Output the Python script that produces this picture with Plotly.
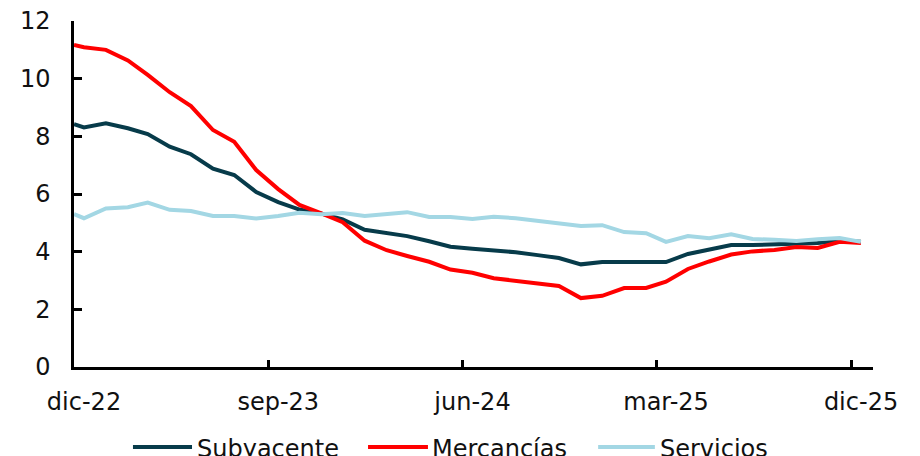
import plotly.graph_objects as go

# ---- data ----
dates = [
    "2022-12-01", "2022-12-15",
    "2023-01-15", "2023-02-15", "2023-03-15", "2023-04-15", "2023-05-15", "2023-06-15",
    "2023-07-15", "2023-08-15", "2023-09-15", "2023-10-15", "2023-11-15", "2023-12-15",
    "2024-01-15", "2024-02-15", "2024-03-15", "2024-04-15", "2024-05-15", "2024-06-15",
    "2024-07-15", "2024-08-15", "2024-09-15", "2024-10-15", "2024-11-15", "2024-12-15",
    "2025-01-15", "2025-02-15", "2025-03-15", "2025-04-15", "2025-05-15", "2025-06-15",
    "2025-07-15", "2025-08-15", "2025-09-15", "2025-10-15", "2025-11-15", "2025-12-15",
]

subyacente = [
    8.42, 8.31, 8.45, 8.28, 8.08, 7.64, 7.38, 6.88, 6.66, 6.07, 5.72, 5.46, 5.32,
    5.12, 4.76, 4.65, 4.54, 4.36, 4.17, 4.10, 4.04, 3.98, 3.88, 3.78, 3.56, 3.64,
    3.64, 3.64, 3.64, 3.92, 4.06, 4.23, 4.23, 4.26, 4.27, 4.30, 4.37, 4.34,
]

mercancias = [
    11.17, 11.09, 11.00, 10.63, 10.13, 9.53, 9.05, 8.22, 7.81, 6.83, 6.17, 5.62, 5.33,
    5.02, 4.38, 4.05, 3.85, 3.65, 3.38, 3.27, 3.08, 2.99, 2.90, 2.81, 2.39, 2.47,
    2.74, 2.74, 2.96, 3.40, 3.66, 3.90, 4.01, 4.06, 4.16, 4.13, 4.34, 4.30,
]

servicios = [
    5.30, 5.16, 5.50, 5.54, 5.70, 5.45, 5.41, 5.24, 5.24, 5.15, 5.24, 5.35, 5.30,
    5.34, 5.24, 5.30, 5.37, 5.20, 5.20, 5.13, 5.21, 5.16, 5.08, 4.98, 4.89, 4.92,
    4.68, 4.64, 4.34, 4.54, 4.47, 4.60, 4.44, 4.41, 4.37, 4.43, 4.47, 4.34,
]

tick_dates = ["2022-12-01", "2023-09-01", "2024-06-01", "2025-03-01", "2025-12-01"]
tick_labels = ["dic-22", "sep-23", "jun-24", "mar-25", "dic-25"]
y_ticks = [0, 2, 4, 6, 8, 10, 12]

series_names = ["Subyacente", "Mercancías", "Servicios"]
series_colors = ["#073B4A", "#FF0000", "#A3D7E4"]

FONT = "DejaVu Sans"
FSIZE = 24
TXT = "#111111"

fig = go.Figure()
for name, vals, col in zip(series_names, [subyacente, mercancias, servicios], series_colors):
    fig.add_trace(go.Scatter(
        x=dates, y=vals, name=name, mode="lines",
        line=dict(color=col, width=4),
        hoverinfo="skip", showlegend=False,
    ))

# custom legend (long line samples like the original), paper coordinates
legend_y = -0.231
legend_items = [  # (line start, line end, text start) in paper x
    (0.0738, 0.1477, 0.1520),
    (0.3680, 0.4430, 0.4460),
    (0.6560, 0.7270, 0.7310),
]
for (x0, x1, xt), name, col in zip(legend_items, series_names, series_colors):
    fig.add_shape(type="line", xref="paper", yref="paper",
                  x0=x0, x1=x1, y0=legend_y, y1=legend_y,
                  line=dict(color=col, width=4))
    fig.add_annotation(xref="paper", yref="paper", x=xt, y=legend_y - 0.005,
                       text=name, showarrow=False, xanchor="left", yanchor="middle",
                       font=dict(family=FONT, size=FSIZE, color=TXT))

fig.update_layout(
    width=920, height=456,
    margin=dict(l=74, r=47, t=21, b=89, autoexpand=False),
    paper_bgcolor="white", plot_bgcolor="white",
    font=dict(family=FONT, size=FSIZE, color=TXT),
    showlegend=False,
)

fig.update_xaxes(
    type="date",
    range=["2022-12-01", "2026-01-01"],
    tickmode="array", tickvals=tick_dates, ticktext=tick_labels,
    showgrid=False, zeroline=False, automargin=False,
    showline=True, linecolor="black", linewidth=2.5,
    ticks="inside", ticklen=7, tickwidth=2.5, tickcolor="black",
    ticklabelstandoff=11, ticklabelshift=10,
    tickfont=dict(family=FONT, size=FSIZE, color=TXT),
)
fig.update_yaxes(
    range=[0, 12],
    tickmode="array", tickvals=y_ticks,
    showgrid=False, zeroline=False, automargin=False,
    showline=True, linecolor="black", linewidth=2.5,
    ticks="inside", ticklen=8, tickwidth=2.5, tickcolor="black",
    ticklabelstandoff=16,
    tickfont=dict(family=FONT, size=FSIZE, color=TXT),
)

fig.write_html(
    "out.html",
    config={"displayModeBar": False},
    post_script="document.body.style.margin='0px';document.body.style.overflow='hidden';",
)
